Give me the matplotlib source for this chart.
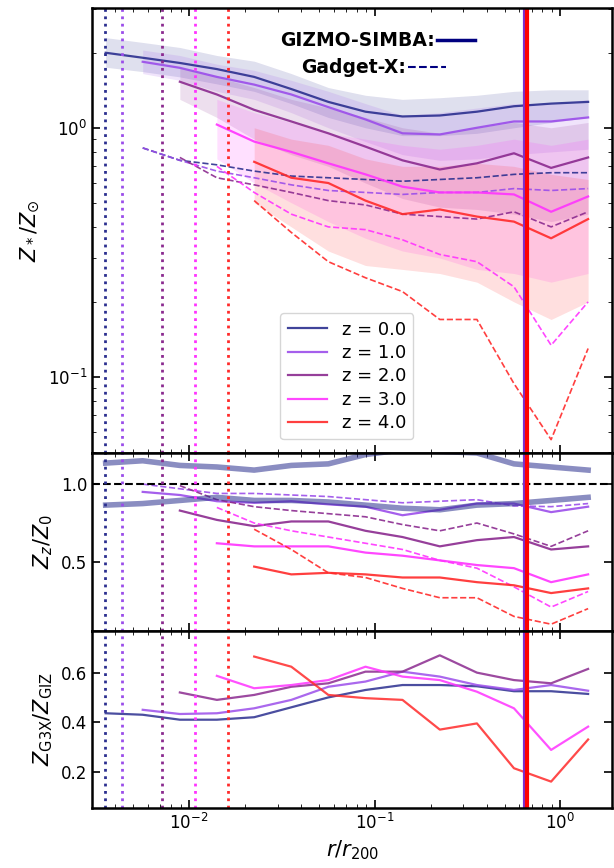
import matplotlib
matplotlib.use("Agg")
import matplotlib.pyplot as plt
from matplotlib.lines import Line2D
import numpy as np

nan = np.nan
# radial bin centres (r / r200)
r = np.array([0.00355, 0.00562, 0.00891, 0.0141, 0.0224, 0.0355, 0.0562,
              0.0891, 0.141, 0.224, 0.355, 0.562, 0.891, 1.41])

labels = ["z = 0.0", "z = 1.0", "z = 2.0", "z = 3.0", "z = 4.0"]
colors = ["#2b2f8f", "#9b4dea", "#8b2a8f", "#ff33ff", "#ff2a2a"]

# stellar metallicity profiles, GIZMO-SIMBA
giz = [
    [2.0, 1.91, 1.82, 1.72, 1.60, 1.43, 1.27, 1.16, 1.11, 1.12, 1.16, 1.22, 1.25, 1.27],
    [nan, 1.84, 1.74, 1.60, 1.49, 1.36, 1.21, 1.08, 0.95, 0.94, 1.0, 1.06, 1.06, 1.10],
    [nan, nan, 1.53, 1.36, 1.18, 1.06, 0.95, 0.84, 0.74, 0.68, 0.72, 0.79, 0.69, 0.76],
    [nan, nan, nan, 1.03, 0.88, 0.80, 0.72, 0.65, 0.58, 0.55, 0.55, 0.54, 0.46, 0.53],
    [nan, nan, nan, nan, 0.73, 0.63, 0.60, 0.51, 0.45, 0.47, 0.44, 0.42, 0.36, 0.43],
]
giz_hi = [
    [2.3, 2.2, 2.1, 1.95, 1.85, 1.65, 1.45, 1.35, 1.3, 1.32, 1.35, 1.4, 1.42, 1.42],
    [nan, 2.05, 1.95, 1.8, 1.7, 1.55, 1.4, 1.25, 1.12, 1.15, 1.2, 1.25, 1.25, 1.3],
    [nan, nan, 1.75, 1.6, 1.45, 1.3, 1.2, 1.1, 1.0, 0.95, 1.0, 1.05, 1.0, 1.05],
    [nan, nan, nan, 1.3, 1.15, 1.05, 0.95, 0.9, 0.85, 0.82, 0.85, 0.9, 0.85, 0.9],
    [nan, nan, nan, nan, 1.0, 0.9, 0.85, 0.75, 0.7, 0.7, 0.72, 0.7, 0.65, 0.62],
]
giz_lo = [
    [1.75, 1.68, 1.6, 1.5, 1.4, 1.25, 1.1, 1.0, 0.93, 0.93, 0.95, 1.0, 1.05, 1.1],
    [nan, 1.65, 1.55, 1.4, 1.3, 1.15, 1.0, 0.88, 0.78, 0.74, 0.75, 0.78, 0.8, 0.82],
    [nan, nan, 1.3, 1.1, 0.9, 0.78, 0.7, 0.6, 0.52, 0.48, 0.47, 0.45, 0.42, 0.45],
    [nan, nan, nan, 0.75, 0.6, 0.5, 0.42, 0.36, 0.32, 0.3, 0.27, 0.26, 0.24, 0.26],
    [nan, nan, nan, nan, 0.5, 0.4, 0.32, 0.28, 0.27, 0.26, 0.24, 0.2, 0.17, 0.2],
]
# Gadget-X
g3x = [
    [nan, 0.83, 0.74, 0.71, 0.67, 0.64, 0.63, 0.62, 0.61, 0.62, 0.63, 0.65, 0.66, 0.66],
    [nan, 0.83, 0.74, 0.67, 0.63, 0.59, 0.56, 0.55, 0.54, 0.55, 0.55, 0.57, 0.56, 0.57],
    [nan, nan, 0.76, 0.63, 0.59, 0.55, 0.51, 0.49, 0.45, 0.44, 0.43, 0.46, 0.40, 0.46],
    [nan, nan, nan, 0.70, 0.55, 0.45, 0.40, 0.39, 0.355, 0.31, 0.29, 0.23, 0.134, 0.2],
    [nan, nan, nan, nan, 0.51, 0.38, 0.29, 0.25, 0.22, 0.17, 0.17, 0.094, 0.056, 0.13],
]

# Z_z / Z_0
band_hi_ratio = [1.135, 1.15, 1.12, 1.11, 1.09, 1.12, 1.13, 1.19, 1.22, 1.21, 1.2, 1.13, 1.11, 1.09]
band_lo_ratio = [0.865, 0.875, 0.895, 0.915, 0.895, 0.895, 0.885, 0.865, 0.845, 0.835, 0.865, 0.875, 0.895, 0.915]
ratio_giz = [
    None,
    [nan, 0.95, 0.93, 0.89, 0.88, 0.89, 0.87, 0.855, 0.80, 0.835, 0.875, 0.875, 0.82, 0.855],
    [nan, nan, 0.83, 0.77, 0.73, 0.76, 0.76, 0.70, 0.66, 0.60, 0.64, 0.66, 0.58, 0.60],
    [nan, nan, nan, 0.62, 0.60, 0.60, 0.60, 0.56, 0.54, 0.51, 0.48, 0.46, 0.37, 0.42],
    [nan, nan, nan, nan, 0.47, 0.42, 0.43, 0.42, 0.40, 0.40, 0.37, 0.35, 0.30, 0.33],
]
ratio_g3x = [
    None,
    [nan, 1.0, 0.97, 0.94, 0.94, 0.93, 0.92, 0.90, 0.88, 0.89, 0.90, 0.86, 0.855, 0.875],
    [nan, nan, 0.99, 0.90, 0.855, 0.83, 0.81, 0.79, 0.74, 0.70, 0.75, 0.68, 0.60, 0.70],
    [nan, nan, nan, 0.85, 0.75, 0.70, 0.66, 0.62, 0.58, 0.51, 0.46, 0.34, 0.21, 0.31],
    [nan, nan, nan, nan, 0.71, 0.58, 0.43, 0.40, 0.33, 0.27, 0.27, 0.15, 0.10, 0.20],
]

# Z_G3X / Z_GIZ
g3x_over_giz = [
    [0.436, 0.43, 0.41, 0.41, 0.42, 0.46, 0.50, 0.53, 0.55, 0.55, 0.545, 0.525, 0.525, 0.514],
    [nan, 0.45, 0.433, 0.436, 0.456, 0.49, 0.543, 0.564, 0.604, 0.584, 0.55, 0.53, 0.55, 0.527],
    [nan, nan, 0.52, 0.49, 0.51, 0.543, 0.557, 0.604, 0.604, 0.67, 0.60, 0.57, 0.557, 0.615],
    [nan, nan, nan, 0.587, 0.537, 0.55, 0.57, 0.624, 0.584, 0.57, 0.523, 0.456, 0.288, 0.382],
    [nan, nan, nan, nan, 0.665, 0.624, 0.51, 0.497, 0.49, 0.37, 0.395, 0.214, 0.16, 0.33],
]

# resolution limits and r500
r_soft = [0.00352, 0.00435, 0.00715, 0.01077, 0.0162]
r500 = [0.645, 0.66]

fig, axes = plt.subplots(3, 1, figsize=(6.14, 8.68), sharex=True,
                         gridspec_kw={"height_ratios": [445, 178, 177], "hspace": 0})
fig.subplots_adjust(left=0.150, right=0.997, top=0.991, bottom=0.069)
ax1, ax2, ax3 = axes

for i in range(5):
    c = colors[i]
    ax1.fill_between(r, giz_lo[i], giz_hi[i], color=c, alpha=0.15, lw=0)
    ax1.plot(r, giz[i], color=c, lw=1.6, alpha=0.9, label=labels[i])
    ax1.plot(r, g3x[i], color=c, lw=1.2, ls="--", alpha=0.9)
    if ratio_giz[i] is not None:
        ax2.plot(r, ratio_giz[i], color=c, lw=1.6, alpha=0.9)
        ax2.plot(r, ratio_g3x[i], color=c, lw=1.2, ls="--", alpha=0.9)
    ax3.plot(r, g3x_over_giz[i], color=c, lw=1.6, alpha=0.85)

ax2.plot(r, band_hi_ratio, color="#2b2f8f", lw=4, alpha=0.55)
ax2.plot(r, band_lo_ratio, color="#2b2f8f", lw=4, alpha=0.55)
ax2.axhline(1.0, color="k", ls="--", lw=1.5)

for ax in axes:
    for rs, c in zip(r_soft, colors):
        ax.axvline(rs, color=c, ls=":", lw=2)
    ax.axvline(r500[0], color="#7b2fd0", lw=3)
    ax.axvline(r500[1], color="red", lw=3)
    ax.set_xscale("log")
    ax.tick_params(which="both", direction="in", top=True, right=True, labelsize=12)
    ax.tick_params(which="major", length=6, width=1.2)
    ax.tick_params(which="minor", length=3)
    for s in ax.spines.values():
        s.set_linewidth(1.8)

ax1.set_xlim(0.003, 1.9)
ax1.set_yscale("log")
ax1.set_ylim(0.0495, 3.03)
ax2.set_ylim(0.056, 1.2)
ax2.set_yticks([0.5, 1.0])
ax3.set_ylim(0.053, 0.768)
ax3.set_yticks([0.2, 0.4, 0.6])

ax1.set_ylabel(r"$Z_*/Z_{\odot}$", fontsize=15)
ax2.set_ylabel(r"$Z_z/Z_0$", fontsize=15)
ax3.set_ylabel(r"$Z_{\rm G3X}/Z_{\rm GIZ}$", fontsize=15)
ax3.set_xlabel(r"$r/r_{200}$", fontsize=15)

leg = ax1.legend(loc="lower center", bbox_to_anchor=(0.49, 0.01), fontsize=13,
                 handlelength=2.2, borderpad=0.4, labelspacing=0.3)
ax1.add_artist(leg)
l1 = ax1.legend([Line2D([], [], color="navy", lw=2.5)], ["GIZMO-SIMBA:"],
                loc="upper left", bbox_to_anchor=(0.33, 0.985), frameon=False,
                markerfirst=False, prop={"weight": "bold", "size": 13.5}, handlelength=2.0,
                handletextpad=0.1)
ax1.add_artist(l1)
ax1.legend([Line2D([], [], color="navy", lw=1.5, ls="--")], ["Gadget-X:"],
           loc="upper left", bbox_to_anchor=(0.37, 0.925), frameon=False,
           markerfirst=False, prop={"weight": "bold", "size": 13.5}, handlelength=2.0,
           handletextpad=0.1)

fig.savefig("out.png", dpi=100)
